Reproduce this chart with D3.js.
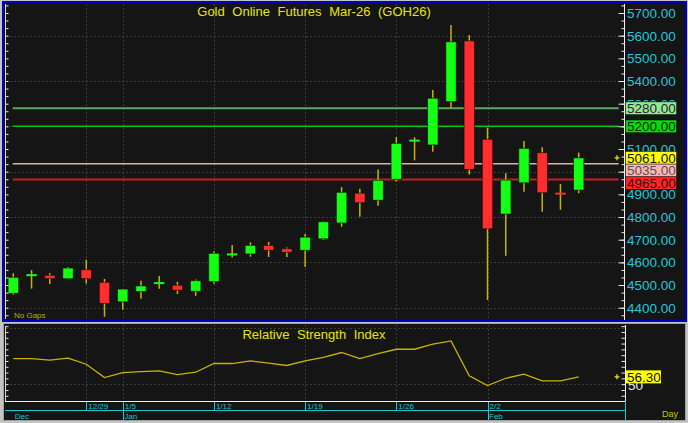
<!DOCTYPE html>
<html><head><meta charset="utf-8">
<script src="https://cdn.jsdelivr.net/npm/d3@7"></script>
<style>
html,body{margin:0;padding:0;background:#c4c4c4;overflow:hidden}
svg{display:block;font-family:Arial,"Liberation Sans",sans-serif}
</style>
</head><body>
<svg id="c" width="688" height="423"></svg>
<script>
// ---------- data ----------
const dates = ["12/22","12/23","12/24","12/26","12/29","12/30","1/5","1/6","1/7","1/8","1/9",
  "1/12","1/13","1/14","1/15","1/16","1/19","1/20","1/21","1/22","1/23",
  "1/26","1/27","1/28","1/29","1/30","2/2","2/3","2/4","2/5","2/6","2/9"];
const open  = [4463,4540,4543,4528,4568,4512,4426,4471,4506,4499,4472,4515,4633,4637,4675,4660,4653,4704,4774,4905,4874,4966,5134,5118,5309,5577,5143,4813,4951,5084,4905,4919];
const high  = [4552,4566,4552,4579,4612,4527,4483,4519,4540,4515,4524,4649,4677,4688,4690,4666,4725,4781,4932,4925,5010,5152,5152,5360,5647,5603,5194,4993,5135,5108,4946,5084];
const low   = [4457,4484,4505,4527,4506,4360,4391,4440,4484,4460,4452,4506,4621,4625,4624,4624,4580,4699,4757,4801,4850,4957,5050,5088,5282,4987,4434,4629,4912,4823,4832,4905];
const close = [4534,4547,4528,4575,4528,4419,4482,4496,4511,4477,4519,4640,4637,4675,4653,4644,4711,4779,4909,4863,4962,5125,5140,5324,5573,5010,4748,4963,5103,4907,4901,5061];
const rsi   = [72.1,72.1,70.7,72.4,67.2,55.7,60.0,60.9,61.5,58.3,60.3,67.8,67.8,70.1,68.1,66.1,70.1,73.0,77.3,72.1,76.4,80.1,80.1,84.5,87.3,57.2,48.8,55.1,58.6,52.8,52.8,56.3];
const weekTicks = ["12/29","1/5","1/12","1/19","1/26","2/2"];
const monthNames = ["Dec","Jan","Feb"];
const monthStarts = ["12/22","1/5","2/2"];
const priceTicks = [4400,4500,4600,4700,4800,4900,5000,5100,5200,5300,5400,5500,5600,5700];
const priceGrid = [4400,4600,4800,5000,5200,5400,5600];
const levels = [5280,5200,5061,5035,4965];
const levelNames = ["5280.00","5200.00","5061.00","5035.00","4965.00"];
const rsiGrid = [50,98];
const rsiLabel = "56.30";
const title = "Gold Online Futures Mar-26 (GOH26)";
const subTitle = "Relative Strength Index";

// ---------- styles ----------
const levelLine = [{c:"#5aa85a",w:2},{c:"#00cc00",w:1.5},null,{c:"#dcb4aa",w:1.5},{c:"#c42020",w:2}];
const levelBox = ["#94e894","#00dd00","#ffff00","#ffb4b4","#ff2424"];
const levelText = ["#2a2a2a","#1a1a1a","#111","#555","#3a1010"];
const BG="#151515", GRID="#3c3c3c", WICK="#c8b400", UP="#14ff14", DN="#ff2d2d", CYAN="#1cc6d2", YEL="#e6e600";

const svg = d3.select("#c");
const idx = d => dates.indexOf(d);
const x = d3.scaleLinear().domain([0, dates.length-1]).range([13.3, 578.7]);
const y = d3.scaleLinear().domain([4400,5700]).range([307.7,13]);
const yr = d3.scaleLinear().domain([35.5,101]).range([401,325]);
const bw = 10.4;

// panels
svg.append("rect").attr("x",0).attr("y",0).attr("width",688).attr("height",423).attr("fill","#c4c4c4");
svg.append("rect").attr("x",3).attr("y",2).attr("width",683).attr("height",319).attr("fill",BG)
  .attr("stroke","#0000c0").attr("stroke-width",2);
svg.append("rect").attr("x",3.5).attr("y",323.5).attr("width",682).attr("height",97).attr("fill",BG)
  .attr("stroke","#a0a0a0").attr("stroke-width",1);

// grid price
const g = svg.append("g");
g.selectAll(".hg").data(priceGrid).join("line")
  .attr("x1",6).attr("x2",624).attr("y1",d=>Math.round(y(d))+0.5).attr("y2",d=>Math.round(y(d))+0.5)
  .attr("stroke",GRID).attr("stroke-dasharray","2,2");
g.selectAll(".vg").data(weekTicks).join("line")
  .attr("x1",d=>Math.round(x(idx(d)))+0.5).attr("x2",d=>Math.round(x(idx(d)))+0.5).attr("y1",4).attr("y2",320)
  .attr("stroke",GRID).attr("stroke-dasharray","2,2");
// grid rsi
g.selectAll(".rhg").data(rsiGrid).join("line")
  .attr("x1",6).attr("x2",625).attr("y1",d=>Math.round(yr(d))+0.5).attr("y2",d=>Math.round(yr(d))+0.5)
  .attr("stroke",GRID).attr("stroke-dasharray","2,2");
g.selectAll(".rvg").data(weekTicks).join("line")
  .attr("x1",d=>Math.round(x(idx(d)))+0.5).attr("x2",d=>Math.round(x(idx(d)))+0.5).attr("y1",325).attr("y2",401)
  .attr("stroke",GRID).attr("stroke-dasharray","2,2");

// level lines
levels.forEach((v,i)=>{
  if(!levelLine[i]) return;
  svg.append("line").attr("x1",12.7).attr("x2",618.7).attr("y1",y(v)).attr("y2",y(v))
    .attr("stroke",levelLine[i].c).attr("stroke-width",levelLine[i].w);
});

// candles
const cg = svg.append("g");
dates.forEach((d,i)=>{
  const cx = x(i);
  cg.append("line").attr("x1",cx).attr("x2",cx).attr("y1",y(high[i])).attr("y2",y(low[i]))
    .attr("stroke",WICK).attr("stroke-width",1.5);
  const up = close[i]>=open[i];
  const top = y(Math.max(open[i],close[i])), bot = y(Math.min(open[i],close[i]));
  if (bot-top < 2.5) {
    cg.append("rect").attr("x",cx-bw/2).attr("y",(top+bot)/2-1).attr("width",bw).attr("height",2)
      .attr("fill",up?UP:DN);
  } else {
    cg.append("rect").attr("x",cx-bw/2).attr("y",top).attr("width",bw).attr("height",bot-top)
      .attr("fill",up?UP:DN).attr("stroke","rgba(0,0,0,0.55)").attr("stroke-width",1);
  }
});

// rsi line
svg.append("path").datum(rsi).attr("fill","none").attr("stroke",WICK).attr("stroke-width",1.3)
  .attr("d",d3.line().x((d,i)=>x(i)).y(d=>yr(d)));

// axes: minor tick values
const minorP = d3.range(-1,42).map(k=>4400+k*100/3).filter(v=>y(v)>4 && y(v)<319);
const leftAx = svg.append("g").attr("transform","translate(5.5,0)")
  .call(d3.axisRight(y).tickValues(minorP).tickSize(3).tickFormat(""));
leftAx.select(".domain").remove();
leftAx.selectAll("line").attr("stroke","#e8e8e8");
svg.append("line").attr("x1",5.5).attr("x2",5.5).attr("y1",4).attr("y2",319).attr("stroke","#d8d8d8").attr("stroke-width",1);

const rightAx = svg.append("g").attr("transform","translate(624.5,0)")
  .call(d3.axisLeft(y).tickValues(minorP).tickSize(3).tickFormat(""));
rightAx.select(".domain").remove();
rightAx.selectAll("line").attr("stroke","#e8e8e8");
const rightAx2 = svg.append("g").attr("transform","translate(624.5,0)")
  .call(d3.axisLeft(y).tickValues(priceTicks).tickSize(6).tickFormat(""));
rightAx2.select(".domain").remove();
rightAx2.selectAll("line").attr("stroke","#e8e8e8");
svg.append("line").attr("x1",624.5).attr("x2",624.5).attr("y1",4).attr("y2",320).attr("stroke","#f0f0f0");

// level box positions (stacked so they do not overlap)
const bh = 12.6;
const boxY = [];
levels.forEach((v,i)=>{
  let cy = y(v);
  if (i>0 && cy < boxY[i-1] + bh) cy = boxY[i-1] + bh;
  boxY.push(cy);
});

// price labels (those completely hidden behind a level box are not drawn)
const visibleTicks = priceTicks.filter(t => !boxY.some(b => Math.abs(b - y(t)) < 3));
svg.append("g").selectAll("text").data(visibleTicks).join("text")
  .attr("x",627).attr("y",d=>y(d)).attr("dy","0.36em").attr("fill","#1ec8d8")
  .attr("font-size","13.5px").text(d=>d3.format(".2f")(d));

levels.forEach((v,i)=>{
  const cy = boxY[i];
  svg.append("rect").attr("x",625.5).attr("y",cy-bh/2).attr("width",51).attr("height",bh)
    .attr("fill",levelBox[i]).attr("stroke","rgba(0,0,0,0.5)").attr("stroke-width",0.8);
  svg.append("text").attr("x",627).attr("y",cy).attr("dy","0.37em").attr("font-size","13.5px")
    .attr("fill",levelText[i]).text(levelNames[i]);
});
// last-price marker
const mk = (cx,cy)=>svg.append("path").attr("d",`M${cx-2.5},${cy}H${cx+2.5}M${cx},${cy-2.5}V${cy+2.5}`)
  .attr("stroke",YEL).attr("stroke-width",1.3);
mk(617, y(close[close.length-1]));

// RSI axes
const minorR = d3.range(30,105,5).filter(v=>yr(v)>325 && yr(v)<=401);
const rl = svg.append("g").attr("transform","translate(5.5,0)")
  .call(d3.axisRight(yr).tickValues(minorR).tickSize(3).tickFormat(""));
rl.select(".domain").remove(); rl.selectAll("line").attr("stroke","#e8e8e8");
const rr = svg.append("g").attr("transform","translate(625.5,0)")
  .call(d3.axisLeft(yr).tickValues(minorR).tickSize(4).tickFormat(""));
rr.select(".domain").remove(); rr.selectAll("line").attr("stroke","#e8e8e8");
svg.append("line").attr("x1",5.5).attr("x2",5.5).attr("y1",326).attr("y2",401).attr("stroke","#d8d8d8");
svg.append("line").attr("x1",625.5).attr("x2",625.5).attr("y1",325).attr("y2",401).attr("stroke","#f0f0f0");
svg.append("line").attr("x1",5).attr("x2",626).attr("y1",401.5).attr("y2",401.5).attr("stroke","#f0f0f0");

svg.append("text").attr("x",628).attr("y",yr(50)+1).attr("dy","0.36em").attr("font-size","13.5px")
  .attr("fill","#e8e8e8").text("50");
const lr = yr(rsi[rsi.length-1]);
svg.append("rect").attr("x",626).attr("y",lr-6.5).attr("width",35).attr("height",13).attr("fill","#ffff00");
svg.append("text").attr("x",627).attr("y",lr).attr("dy","0.37em").attr("font-size","13.5px")
  .attr("fill","#111").text(rsiLabel);
mk(617, lr);

// time axis
svg.append("line").attr("x1",5).attr("x2",625).attr("y1",410.5).attr("y2",410.5).attr("stroke",CYAN);
svg.append("line").attr("x1",625.5).attr("x2",625.5).attr("y1",401).attr("y2",421).attr("stroke",CYAN);
svg.append("g").selectAll("line").data(weekTicks).join("line")
  .attr("x1",d=>Math.round(x(idx(d)))+0.5).attr("x2",d=>Math.round(x(idx(d)))+0.5)
  .attr("y1",402).attr("y2",d=>monthStarts.includes(d)?421:410.5).attr("stroke",CYAN);
svg.append("g").selectAll("text").data(weekTicks).join("text")
  .attr("x",d=>x(idx(d))+2).attr("y",409).attr("font-size","8px").attr("fill",CYAN).text(d=>d);
svg.append("g").selectAll("text").data(monthNames).join("text")
  .attr("x",(d,i)=>x(idx(monthStarts[i]))+1.5).attr("y",419).attr("font-size","8px").attr("fill",CYAN).text(d=>d);
svg.append("text").attr("x",662).attr("y",417).attr("font-size","9px").attr("fill","#c8c800").text("Day");

// titles
svg.append("text").attr("x",314).attr("y",16).attr("text-anchor","middle").attr("font-size","13px")
  .attr("fill",YEL).attr("word-spacing","4px").text(title);
svg.append("text").attr("x",314).attr("y",339).attr("text-anchor","middle").attr("font-size","13px")
  .attr("fill",YEL).attr("word-spacing","4px").text(subTitle);
svg.append("text").attr("x",14).attr("y",318).attr("font-size","8px").attr("fill","#b4b400").text("No Gaps");
</script>
</body></html>
